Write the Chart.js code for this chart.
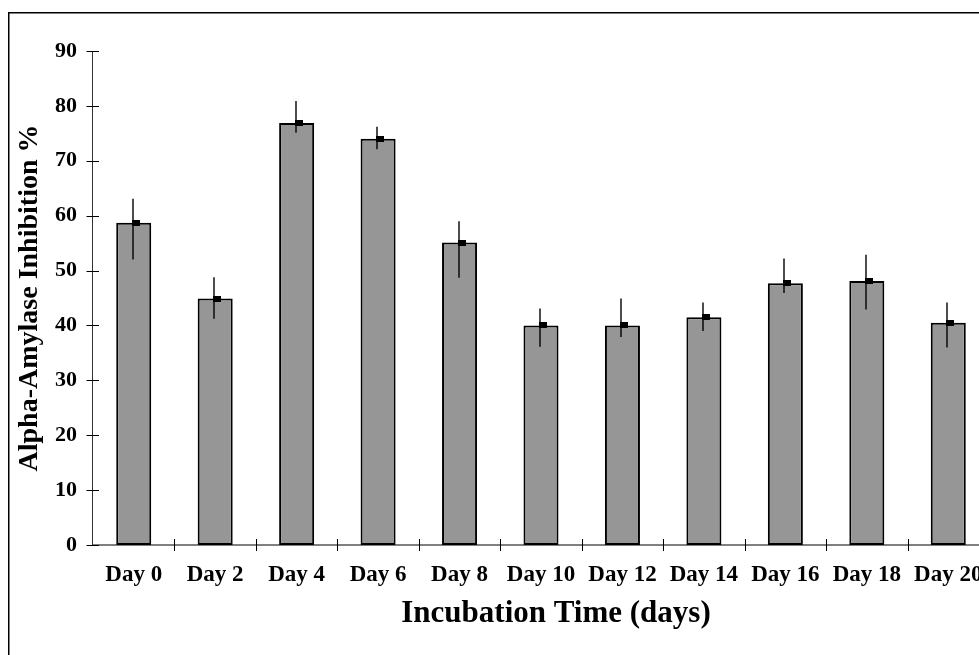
<!DOCTYPE html>
<html>
<head>
<meta charset="utf-8">
<script src="https://cdn.jsdelivr.net/npm/chart.js@4/dist/chart.umd.min.js"></script>
<style>
  html, body { margin: 0; padding: 0; background: #fff; overflow: hidden; width: 979px; height: 655px; }
  #c { display: block; }
</style>
</head>
<body>
<canvas id="c" width="1001" height="655"></canvas>
<script>
const categories = ['Day 0', 'Day 2', 'Day 4', 'Day 6', 'Day 8', 'Day 10', 'Day 12', 'Day 14', 'Day 16', 'Day 18', 'Day 20'];
const inhibition = [58.7, 44.9, 76.9, 74.0, 55.1, 40.0, 40.0, 41.5, 47.7, 48.1, 40.5];
const errorTop = [63.1, 48.8, 80.9, 76.2, 59.0, 43.1, 44.9, 44.2, 52.2, 52.9, 44.2];
const errorBottom = [52.0, 41.2, 75.1, 72.1, 48.7, 36.1, 37.9, 39.0, 45.9, 42.9, 36.0];
const yTicks = [0, 10, 20, 30, 40, 50, 60, 70, 80, 90];
const xTitle = 'Incubation Time (days)';
const yTitle = 'Alpha-Amylase Inhibition %';

const FONT = "'Liberation Serif', 'Times New Roman', serif";

const decor = {
  id: 'decor',
  beforeDraw(chart) {
    const ctx = chart.ctx;
    ctx.save();
    ctx.fillStyle = '#fff';
    ctx.fillRect(0, 0, chart.width, chart.height);
    ctx.strokeStyle = '#000';
    ctx.lineWidth = 1.5;
    ctx.strokeRect(8.75, 12.75, 3000, 3000);
    ctx.restore();
  },
  beforeDatasetsDraw(chart) {
    const ctx = chart.ctx;
    const xs = chart.scales.x, ys = chart.scales.y;
    const area = chart.chartArea;
    const y0 = ys.getPixelForValue(0);
    ctx.save();
    ctx.strokeStyle = '#333';
    ctx.lineWidth = 1;
    ctx.beginPath();
    ctx.moveTo(area.left - 0.5, ys.getPixelForValue(yTicks[yTicks.length - 1]));
    ctx.lineTo(area.left - 0.5, y0);
    ctx.stroke();
    ctx.strokeStyle = '#000';
    yTicks.forEach(v => {
      const py = Math.round(ys.getPixelForValue(v)) + 0.5;
      ctx.beginPath();
      ctx.moveTo(area.left - 6.5, py);
      ctx.lineTo(area.left + 6, py);
      ctx.stroke();
    });
    ctx.beginPath();
    ctx.moveTo(area.left - 0.5, Math.round(y0));
    ctx.lineTo(chart.width, Math.round(y0));
    ctx.stroke();
    const n = categories.length;
    const step = (area.right - area.left) / n;
    for (let i = 1; i <= n; i++) {
      const px = Math.round(xs.getPixelForValue(i - 1) + step / 2) + 0.5;
      ctx.beginPath();
      ctx.moveTo(px, y0 - 6);
      ctx.lineTo(px, y0 + 6);
      ctx.stroke();
    }
    ctx.restore();
  },
  afterDatasetsDraw(chart) {
    const ctx = chart.ctx;
    const xs = chart.scales.x, ys = chart.scales.y;
    ctx.save();
    ctx.strokeStyle = '#000';
    ctx.lineWidth = 1.4;
    categories.forEach((c, i) => {
      const ex = Math.round(xs.getPixelForValue(i) - 1);
      ctx.beginPath();
      ctx.moveTo(ex, ys.getPixelForValue(errorTop[i]));
      ctx.lineTo(ex, ys.getPixelForValue(errorBottom[i]));
      ctx.stroke();
    });
    ctx.fillStyle = '#000';
    categories.forEach((c, i) => {
      const cx = xs.getPixelForValue(i) + 2;
      const cy = ys.getPixelForValue(inhibition[i]);
      ctx.fillRect(Math.round(cx - 4), Math.round(cy - 3), 8, 6);
    });
    ctx.restore();
  },
  afterDraw(chart) {
    const ctx = chart.ctx;
    const area = chart.chartArea;
    ctx.save();
    ctx.fillStyle = '#000';
    ctx.font = "bold 31px " + FONT;
    ctx.textAlign = 'center';
    ctx.textBaseline = 'alphabetic';
    ctx.fillText(xTitle, (area.left + area.right) / 2 + 15, 622);
    ctx.restore();
  }
};

new Chart(document.getElementById('c'), {
  type: 'bar',
  data: {
    labels: categories,
    datasets: [{
      data: inhibition,
      backgroundColor: '#969696',
      borderColor: '#000',
      borderWidth: 2,
      borderSkipped: false,
      barPercentage: 0.43,
      categoryPercentage: 1.0
    }]
  },
  options: {
    responsive: false,
    animation: false,
    devicePixelRatio: 1,
    layout: { padding: { left: 0, right: 12, top: 51, bottom: 0 } },
    plugins: { legend: { display: false }, tooltip: { enabled: false } },
    scales: {
      x: {
        grid: { display: false, drawTicks: false },
        border: { display: false },
        ticks: {
          font: { family: FONT, weight: 'bold', size: 23 },
          color: '#000', padding: 16, maxRotation: 0, minRotation: 0, autoSkip: false
        },
        title: { display: false },
        afterFit(s) { s.height = 110; }
      },
      y: {
        min: 0, max: 90,
        grid: { display: false, drawTicks: false },
        border: { display: false },
        ticks: {
          stepSize: 10,
          font: { family: FONT, weight: 'bold', size: 22 },
          color: '#000', padding: 16,
          callback: (v) => yTicks.includes(v) ? String(v) : ''
        },
        title: {
          display: true, text: yTitle, color: '#000',
          font: { family: FONT, weight: 'bold', size: 28 },
          padding: { top: 13, bottom: 0 }
        },
        afterFit(s) { s.width = 93; }
      }
    }
  },
  plugins: [decor]
});
</script>
</body>
</html>
